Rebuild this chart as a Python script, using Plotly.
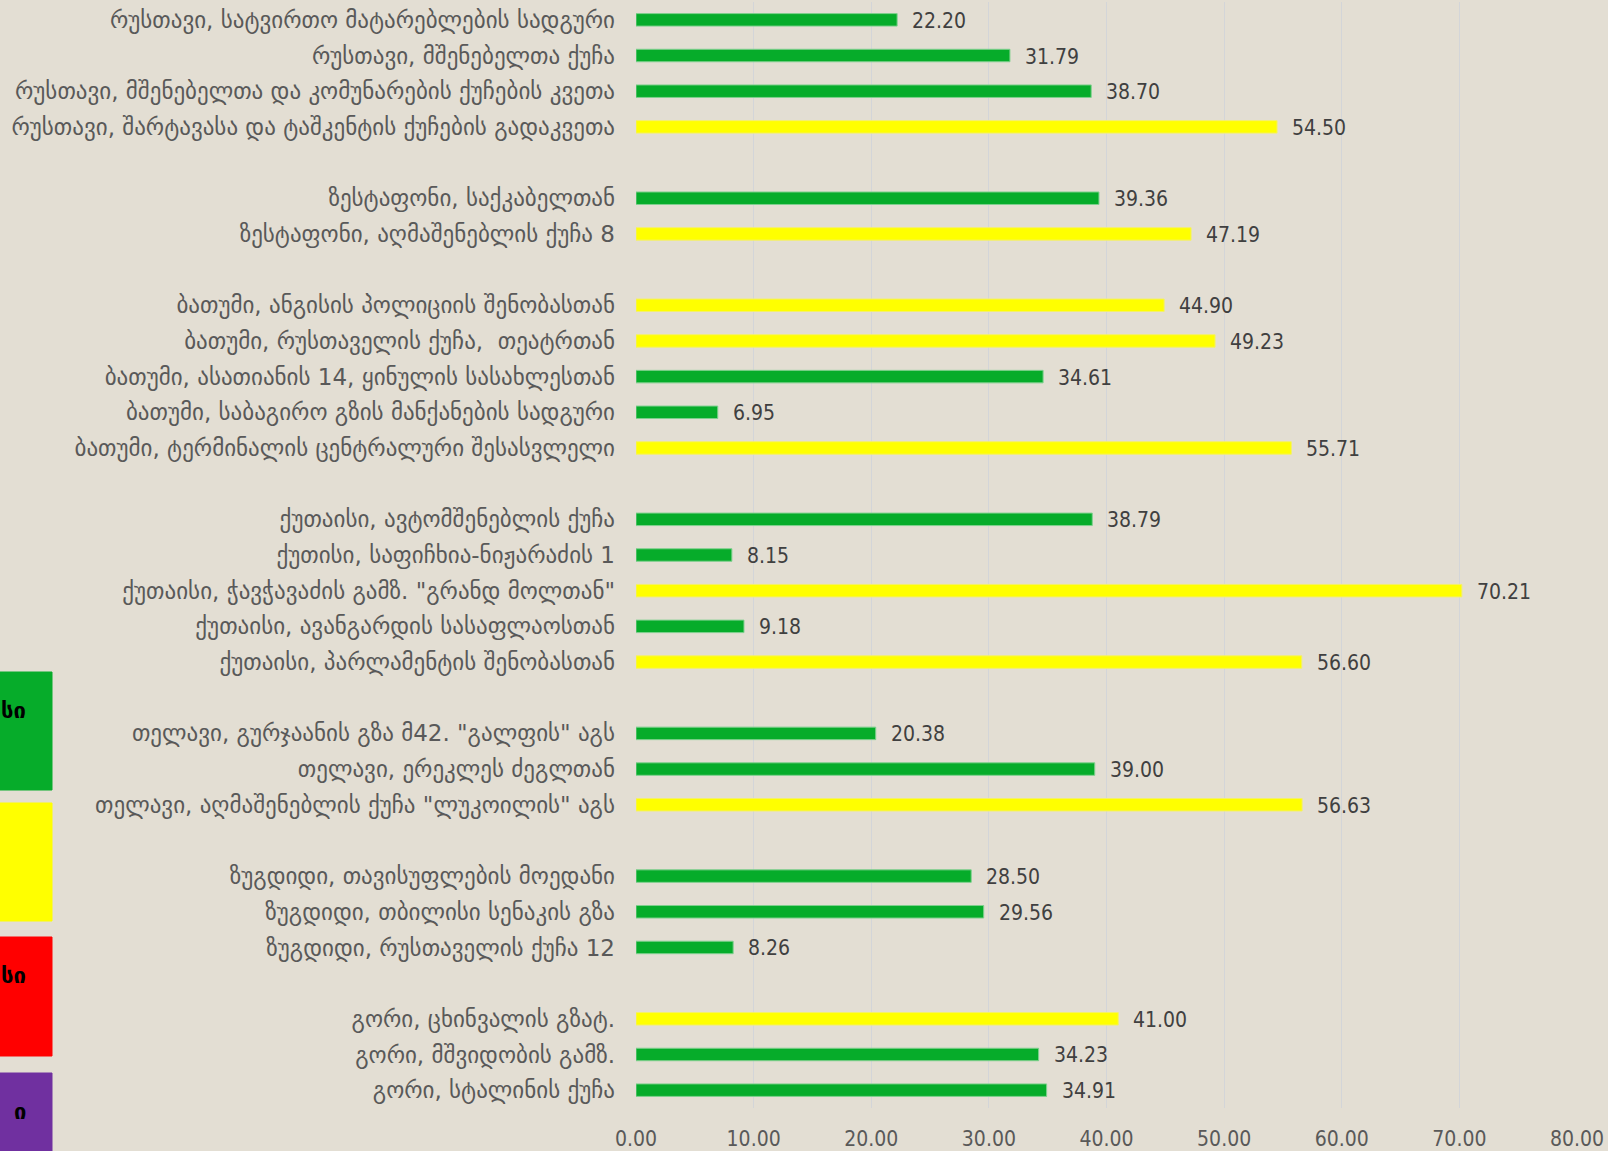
import plotly.graph_objects as go

# ---- data ----
groups = [
    ["რუსთავი, სატვირთო მატარებლების სადგური",
     "რუსთავი, მშენებელთა ქუჩა",
     "რუსთავი, მშენებელთა და კომუნარების ქუჩების კვეთა",
     "რუსთავი, შარტავასა და ტაშკენტის ქუჩების გადაკვეთა"],
    ["ზესტაფონი, საქკაბელთან",
     "ზესტაფონი, აღმაშენებლის ქუჩა 8"],
    ["ბათუმი, ანგისის პოლიციის შენობასთან",
     "ბათუმი, რუსთაველის ქუჩა,  თეატრთან",
     "ბათუმი, ასათიანის 14, ყინულის სასახლესთან",
     "ბათუმი, საბაგირო გზის მანქანების სადგური",
     "ბათუმი, ტერმინალის ცენტრალური შესასვლელი"],
    ["ქუთაისი, ავტომშენებლის ქუჩა",
     "ქუთისი, საფიჩხია-ნიჟარაძის 1",
     "ქუთაისი, ჭავჭავაძის გამზ. \"გრანდ მოლთან\"",
     "ქუთაისი, ავანგარდის სასაფლაოსთან",
     "ქუთაისი, პარლამენტის შენობასთან"],
    ["თელავი, გურჯაანის გზა მ42. \"გალფის\" აგს",
     "თელავი, ერეკლეს ძეგლთან",
     "თელავი, აღმაშენებლის ქუჩა \"ლუკოილის\" აგს"],
    ["ზუგდიდი, თავისუფლების მოედანი",
     "ზუგდიდი, თბილისი სენაკის გზა",
     "ზუგდიდი, რუსთაველის ქუჩა 12"],
    ["გორი, ცხინვალის გზატ.",
     "გორი, მშვიდობის გამზ.",
     "გორი, სტალინის ქუჩა"],
]
values = [
    [22.20, 31.79, 38.70, 54.50],
    [39.36, 47.19],
    [44.90, 49.23, 34.61, 6.95, 55.71],
    [38.79, 8.15, 70.21, 9.18, 56.60],
    [20.38, 39.00, 56.63],
    [28.50, 29.56, 8.26],
    [41.00, 34.23, 34.91],
]
x_ticks = [0, 10, 20, 30, 40, 50, 60, 70, 80]
threshold = 40.0

# ---- layout of slots (one empty slot between groups) ----
labels, vals, pos = [], [], []
slot = 0
for g, v in zip(groups, values):
    for lab, val in zip(g, v):
        labels.append(lab)
        vals.append(val)
        pos.append(slot)
        slot += 1
    slot += 1

GREEN = "#06AC2A"
YELLOW = "#FFFF00"
colors = [YELLOW if v > threshold else GREEN for v in vals]
lines = ["#7fd08e" if v <= threshold else "#f4f06a" for v in vals]

fig = go.Figure()
fig.add_trace(go.Bar(
    x=vals, y=pos, orientation="h",
    marker=dict(color=colors, line=dict(color=lines, width=1)),
    width=0.35, hoverinfo="x+text", hovertext=labels, showlegend=False,
))

for v, p in zip(vals, pos):
    fig.add_annotation(x=v, y=p, text=f"{v:.2f}", showarrow=False,
                       xanchor="left", yanchor="middle", xshift=13, yshift=-1,
                       font=dict(family="DejaVu Sans Condensed, DejaVu Sans", size=21, color="#404040"))

W, H = 1608, 1151
ml, mr, mt, mb = 636, 31, 2, 43
pw, ph = W - ml - mr, H - mt - mb

def px_x(px):
    return (px - ml) / pw

def px_y(py):
    return (H - mb - py) / ph

boxes = [
    ("#06AC2A", 672, 790, "სი"),
    ("#FFFF00", 803, 921, ""),
    ("#FF0000", 937, 1056, "სი"),
    ("#7030A0", 1073, 1160, "ი"),
]
for col, y0, y1, txt in boxes:
    fig.add_shape(type="rect", xref="paper", yref="paper",
                  x0=px_x(-20), x1=px_x(52), y0=px_y(y1), y1=px_y(y0),
                  fillcolor=col, line=dict(color=col, width=1), layer="above")
    if txt:
        fig.add_annotation(xref="paper", yref="paper", x=px_x(28), y=px_y(y0 + 38),
                           text=f"<b>{txt}</b>", showarrow=False, xanchor="right",
                           yanchor="middle",
                           font=dict(family="DejaVu Sans", size=22, color="#000000"))

fig.update_layout(
    width=W, height=H,
    margin=dict(l=ml, r=mr, t=mt, b=mb, autoexpand=False),
    paper_bgcolor="#E3DED3", plot_bgcolor="#E3DED3",
    bargap=0.6,
)
fig.update_xaxes(
    range=[0, 80], tickvals=x_ticks, ticktext=[f"{t:.2f}" for t in x_ticks],
    showgrid=True, gridcolor="#D3D5D8", gridwidth=1, zeroline=False,
    showline=False, ticks="",
    tickfont=dict(family="DejaVu Sans Condensed, DejaVu Sans", size=21, color="#595959"),
    ticklabelstandoff=16,
)
fig.update_yaxes(
    tickvals=pos, ticktext=labels, range=[slot - 0.5 - 1, -0.5],
    showgrid=False, zeroline=False, showline=False, ticks="",
    tickfont=dict(family="DejaVu Sans", size=23, color="#595959"),
    ticklabelstandoff=20,
)

fig.write_html("out.html", config={"displayModeBar": False},
               post_script="document.body.style.margin='0';document.body.style.background='#E3DED3';")
